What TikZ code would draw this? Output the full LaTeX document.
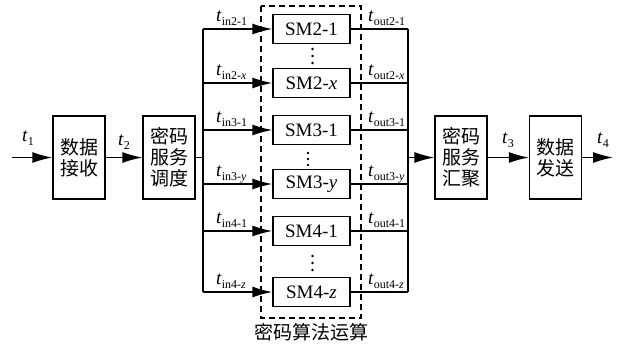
\documentclass[tikz,border=0pt]{standalone}
\usepackage{fontspec}
\setmainfont{Liberation Serif}
\newfontfamily\cjk{Noto Sans CJK SC}
\usetikzlibrary{arrows.meta,positioning}
\newcommand\tlab[1]{\textit{t}\raisebox{-4pt}{\fontsize{12}{12}\selectfont #1}}
\tikzset{
  blk/.style={draw,line width=1.4pt,minimum width=52pt,minimum height=83pt,inner sep=0pt,align=center,font=\cjk\fontsize{19}{21}\selectfont},
  smbox/.style={draw,line width=1.4pt,minimum width=77pt,minimum height=29pt,inner sep=0pt,font=\fontsize{19}{19}\selectfont},
  ln/.style={line width=1.4pt},
  arr/.style={line width=1.4pt,-{Latex[length=20pt,width=11pt]}},
  lab/.style={anchor=base west,inner sep=0pt,font=\fontsize{19}{19}\selectfont},
  dotc/.style={circle,fill,inner sep=0pt,minimum size=2.8pt}
}
\begin{document}
\begin{tikzpicture}[x=1pt,y=-1pt]
\useasboundingbox (0,0) rectangle (617,346);
% main boxes
\node[blk] (b1) at (79,157.5) {数据\\接收};
\node[blk] (b2) at (169,157.5) {密码\\服务\\调度};
\node[blk] (b3) at (461,157.5) {密码\\服务\\汇聚};
\node[blk] (b4) at (555.5,157.5) {数据\\发送};
% SM boxes
\node[smbox] (s1) at (311.5,29) {SM2-1};
\node[smbox] (s2) at (311.5,83) {SM2-\textit{x}};
\node[smbox] (s3) at (311.5,130) {SM3-1};
\node[smbox] (s4) at (311.5,184) {SM3-\textit{y}};
\node[smbox] (s5) at (311.5,231) {SM4-1};
\node[smbox] (s6) at (311.5,292) {SM4-\textit{z}};
% dots
\foreach \x/\y in {312.5/49,312.5/56,312.5/63,308/153,308/159,308/165,312.5/256,312.5/263,312.5/270}{
  \node[dotc] at (\x,\y) {};
}
% dashed box
\draw[line width=1.4pt,dash pattern=on 6pt off 4pt] (261,6) rectangle (361,318);
\node[font=\cjk\fontsize{19}{19}\selectfont,inner sep=0pt] (cap) at (311,332) {密码算法运算};
% coordinates
\coordinate (in) at (12,157.5);
\coordinate (out) at (613,157.5);
\coordinate (lb) at (203,157.5);
\coordinate (rb) at (408,157.5);
\coordinate (lt) at (203,29);
\coordinate (lbot) at (203,292);
\coordinate (rt) at (408,29);
\coordinate (rbot) at (408,292);
% main flow
\draw[arr] (in) -- (b1.west);
\draw[arr] (b1.east) -- (b2.west);
\draw[ln] (b2.east) -- (lb);
\draw[arr] (rb) -- (b3.west);
\draw[arr] (b3.east) -- (b4.west);
\draw[arr] (b4.east) -- (out);
% buses
\draw[ln] (lt) -- (lbot);
\draw[ln] (rt) -- (rbot);
\foreach \s in {s1,s2,s3,s4,s5,s6}{
  \draw[arr] (lt |- \s.west) -- (\s.west);
  \draw[ln] (\s.east) -- (rt |- \s.east);
}
% labels
\node[lab] (t1) at (22,141) {\tlab{1}};
\node[lab] (t2) at (118,145) {\tlab{2}};
\node[lab] (t3) at (502,143) {\tlab{3}};
\node[lab] (t4) at (597,143) {\tlab{4}};
\node[lab] (i1) at (216,21) {\tlab{in2-1}};
\node[lab] (i2) at (216,75) {\tlab{in2-\textit{x}}};
\node[lab] (i3) at (216,122) {\tlab{in3-1}};
\node[lab] (i4) at (216,176) {\tlab{in3-\textit{y}}};
\node[lab] (i5) at (216,223) {\tlab{in4-1}};
\node[lab] (i6) at (216,284) {\tlab{in4-\textit{z}}};
\node[lab] (o1) at (368,21) {\tlab{out2-1}};
\node[lab] (o2) at (368,75) {\tlab{out2-\textit{x}}};
\node[lab] (o3) at (368,122) {\tlab{out3-1}};
\node[lab] (o4) at (368,176) {\tlab{out3-\textit{y}}};
\node[lab] (o5) at (368,223) {\tlab{out4-1}};
\node[lab] (o6) at (368,284) {\tlab{out4-\textit{z}}};
\end{tikzpicture}
\end{document}
